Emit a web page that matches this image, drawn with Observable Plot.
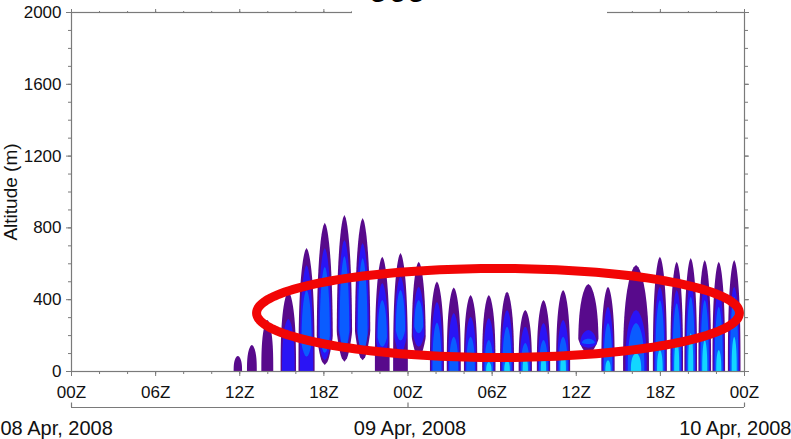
<!DOCTYPE html>
<html><head><meta charset="utf-8">
<script src="https://cdn.jsdelivr.net/npm/d3@7"></script>
<script src="https://cdn.jsdelivr.net/npm/@observablehq/plot@0.6"></script>
<style>
html,body{margin:0;padding:0;background:#fff;}
#wrap{position:relative;width:791px;height:439px;overflow:hidden;background:#fff;}
#title{position:absolute;left:352px;top:0;width:255px;height:36px;background:#fff;overflow:hidden;font-family:"Liberation Sans",Arial,sans-serif;}
#title span{position:absolute;left:16px;top:-28px;font-size:36px;line-height:36px;color:#000;white-space:nowrap;}
</style></head><body>
<div id="wrap"><div id="chart"></div><div id="title"><span>oco</span></div></div>
<script>
// ---- data (hours since 08 Apr 2008 00Z, altitude in m) ----
const spikeHour  = [11.9,12.9,14.0,15.5,16.8,18.1,19.5,20.8,22.2,23.5,24.8,26.1,27.3,28.5,29.8,31.1,32.4,33.7,35.1,36.9,38.3,40.3,42.0,43.2,44.2,45.2,46.2,47.3];
const spikeSpan  = [0.6,0.7,0.85,1.1,1.15,1.15,1.1,1.1,1.05,1.05,1.0,1.0,1.0,0.95,0.95,1.0,0.95,0.95,1.0,1.45,0.95,1.85,1.0,0.9,0.9,0.9,0.9,0.9];
const purpleTop  = [84,145,284,442,685,826,869,852,637,657,609,498,465,423,423,442,340,395,451,485,470,590,637,609,629,618,609,618];
const purpleBase = [0,0,0,0,0,33,52,60,0,0,80,0,0,0,0,0,0,0,0,100,0,0,0,0,0,0,0,0];
const violetTop  = [0,0,0,290,590,685,730,713,490,525,470,385,323,302,295,340,247,267,284,228,358,340,470,451,490,470,451,470];
const violetBase = [0,0,0,0,0,60,117,128,80,100,135,0,0,0,0,0,0,0,0,130,0,0,0,0,0,0,0,0];
const azureTop   = [0,0,0,0,451,581,640,630,395,451,395,270,191,191,173,247,156,173,191,180,267,267,395,378,414,395,358,414];
const azureBase  = [0,0,0,0,80,100,117,100,135,170,210,0,0,0,0,0,0,0,0,150,0,0,0,0,0,0,0,0];
const cyanTop    = [0,0,0,0,0,0,0,0,0,0,0,0,0,0,50,60,80,89,108,0,60,100,117,173,210,173,117,191];
const cyanBase   = new Array(28).fill(0);

const hourTicks  = [0,6,12,18,24,30,36,42,48];
const hourLabels = ["00Z","06Z","12Z","18Z","00Z","06Z","12Z","18Z","00Z"];
const dateHours  = [0,24,48];
const dateLabels = ["08 Apr, 2008","09 Apr, 2008","10 Apr, 2008"];
const altTicks   = [0,400,800,1200,1600,2000];

// highlight ellipse: centre (h, m) and half-axes (h, m)
const ellipseCentre = [30.42, 326];
const ellipseHalf   = [17.22, 248];

// ---- build layer outlines ----
const layers = [
  {top: purpleTop, base: purpleBase, scale: 1.0,  color: "#580a8c"},
  {top: violetTop, base: violetBase, scale: 0.82, color: "#2a14f5"},
  {top: azureTop,  base: azureBase,  scale: 0.64, color: "#0a5cff"},
  {top: cyanTop,   base: cyanBase,   scale: 0.4,  color: "#12d6ff"}
];
function outline(i, L, k) {
  const b = L.base[i], T = L.top[i];
  const rows = [];
  if (!(T > b)) return rows;
  const hw = spikeSpan[i] / 2 * L.scale;
  const N = 48;
  for (let j = 0; j <= N; j++) {
    const u = j / N;
    const h = b + (T - b) * u;
    let f = Math.pow(Math.max(0, 1 - Math.pow(u, 2.8)), 0.6);
    if (b > 0) f *= Math.sqrt(Math.min(1, u / 0.2));
    rows.push({id: k + "-" + i, h, x1: spikeHour[i] - hw * f, x2: spikeHour[i] + hw * f});
  }
  return rows;
}
const layerMarks = layers.map((L, k) => {
  const rows = spikeHour.flatMap((_, i) => outline(i, L, k));
  return Plot.areaX(rows, {y: "h", x1: "x1", x2: "x2", z: "id", fill: L.color, curve: "linear"});
});

const ell = d3.range(0, 181).map(j => {
  const a = j / 180 * 2 * Math.PI;
  return {x: ellipseCentre[0] + ellipseHalf[0] * Math.cos(a), y: ellipseCentre[1] + ellipseHalf[1] * Math.sin(a)};
});

const grey = "#7a7a7a";
const fs = 17;
const dateText = (i, anchor, dx) => Plot.text([dateLabels[i]], {x: () => dateHours[i], frameAnchor: "bottom", lineAnchor: "middle",
  textAnchor: anchor, dx, dy: 57, fontSize: 20, fill: "#111"});
const chart = Plot.plot({
  width: 791, height: 439,
  marginLeft: 71, marginRight: 47, marginTop: 12, marginBottom: 68,
  style: {fontFamily: "'Liberation Sans', Arial, sans-serif", fontSize: fs + "px", color: "#111", background: "white"},
  x: {domain: [0, 48], axis: null},
  y: {domain: [0, 2000], axis: null},
  marks: [
    ...layerMarks,
    Plot.line(ell, {x: "x", y: "y", stroke: "#f20505", strokeWidth: 9, curve: "linear-closed"}),
    Plot.frame({stroke: grey, strokeWidth: 1.2}),
    // bottom axis
    Plot.axisX({anchor: "bottom", ticks: d3.range(0, 49, 2), tickSize: 3, tickFormat: () => "", stroke: grey}),
    Plot.axisX({anchor: "bottom", ticks: hourTicks, tickSize: 5, tickPadding: 9, stroke: grey, fill: "#111", fontSize: fs,
      tickFormat: d => hourLabels[hourTicks.indexOf(d)]}),
    // top axis
    Plot.axisX({anchor: "top", ticks: d3.range(0, 49, 2), tickSize: 2, tickFormat: () => "", stroke: grey}),
    Plot.axisX({anchor: "top", ticks: hourTicks, tickSize: 4, tickFormat: () => "", stroke: grey}),
    // left axis
    Plot.axisY({anchor: "left", ticks: d3.range(0, 2001, 100), tickSize: 3, tickFormat: () => "", stroke: grey}),
    Plot.axisY({anchor: "left", ticks: altTicks, tickSize: 5, tickPadding: 5, stroke: grey, fill: "#111", fontSize: fs,
      tickFormat: d => String(d), label: null}),
    // right axis
    Plot.axisY({anchor: "right", ticks: d3.range(0, 2001, 100), tickSize: 3, tickFormat: () => "", stroke: grey}),
    Plot.axisY({anchor: "right", ticks: altTicks, tickSize: 4, tickFormat: () => "", stroke: grey}),
    Plot.text(["Altitude (m)"], {frameAnchor: "left", textAnchor: "middle", lineAnchor: "middle", rotate: -90, dx: -61, fontSize: 19, fill: "#111"}),
    // date row
    Plot.ruleY([0], {dy: 36, stroke: grey, strokeWidth: 1.2}),
    Plot.ruleX(dateHours, {x: d => d, y1: 0, y2: 25, dy: 36, stroke: grey, strokeWidth: 1.2}),
    dateText(0, "start", -71),
    dateText(1, "middle", 2),
    dateText(2, "end", 47)
  ]
});
document.getElementById("chart").appendChild(chart);
</script>
</body></html>
